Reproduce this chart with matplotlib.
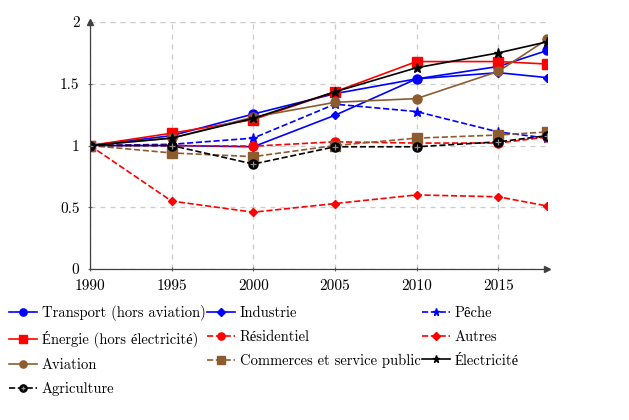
import matplotlib
matplotlib.use("Agg")
import matplotlib.pyplot as plt
from matplotlib.legend_handler import HandlerTuple

plt.rcParams['font.family'] = ['cmr10', 'Liberation Serif']
plt.rcParams['axes.formatter.use_mathtext'] = True

annees = [1990, 1995, 2000, 2005, 2010, 2015, 2018]

transport = [1.0, 1.08, 1.255, 1.42, 1.54, 1.64, 1.77]
industrie = [1.0, 1.0, 0.99, 1.245, 1.54, 1.59, 1.55]
peche = [1.0, 1.01, 1.06, 1.335, 1.275, 1.11, 1.06]
energie = [1.0, 1.10, 1.21, 1.435, 1.68, 1.68, 1.66]
residentiel = [1.0, 1.0, 0.995, 1.03, 1.02, 1.02, 1.07]
autres = [1.0, 0.55, 0.46, 0.53, 0.60, 0.585, 0.51]
aviation = [1.0, 1.06, 1.23, 1.35, 1.38, 1.60, 1.86]
commerces = [1.0, 0.94, 0.91, 1.0, 1.06, 1.085, 1.11]
electricite = [1.0, 1.06, 1.22, 1.435, 1.63, 1.75, 1.84]
agriculture = [1.0, 1.0, 0.85, 0.99, 0.99, 1.03, 1.08]

xticks = [1990, 1995, 2000, 2005, 2010, 2015]
yticks = [0, 0.5, 1, 1.5, 2]
ylabels = ['0', '0.5', '1', '1.5', '2']

bleu = (0, 0, 1)
rouge = (1, 0, 0)
brun = (0.55, 0.36, 0.19)
noir = (0, 0, 0)

fig = plt.figure(figsize=(6.29, 4.2), dpi=100)
ax = fig.add_axes([0.143, 0.3595, 0.727, 0.588])

lw = 1.2
ms = 6.5
h = {}
h['Transport (hors aviation)'], = ax.plot(annees, transport, '-o', color=bleu, lw=lw, ms=ms)
h['Industrie'], = ax.plot(annees, industrie, '-D', color=bleu, lw=lw, ms=4.5)
h['Pêche'], = ax.plot(annees, peche, '--*', color=bleu, lw=lw, ms=6.5)
h['Énergie (hors électricité)'], = ax.plot(annees, energie, '-s', color=rouge, lw=lw, ms=ms)
h['Résidentiel'], = ax.plot(annees, residentiel, '--o', color=rouge, lw=lw, ms=ms)
h['Autres'], = ax.plot(annees, autres, '--D', color=rouge, lw=lw, ms=4.5)
h['Aviation'], = ax.plot(annees, aviation, '-o', color=brun, lw=lw, ms=ms)
h['Commerces et service public'], = ax.plot(annees, commerces, '--s', color=brun, lw=lw, ms=ms)
h['Électricité'], = ax.plot(annees, electricite, '-*', color=noir, lw=lw, ms=6.5)
a1, = ax.plot(annees, agriculture, '--o', color=noir, lw=lw, ms=ms)
a2, = ax.plot(annees, agriculture, '+', color='0.55', ms=4, mew=0.9)
h['Agriculture'] = (a1, a2)

ax.set_xlim(1990, 2018)
ax.set_ylim(0, 2)
ax.set_xticks(xticks)
ax.set_xticklabels([str(x) for x in xticks])
ax.set_yticks(yticks)
ax.set_yticklabels(ylabels)
ax.tick_params(labelsize=11, length=3, color='0.4', direction='inout')
ax.tick_params(axis='x', pad=6)
ax.tick_params(axis='y', pad=6)
ax.grid(True, ls=(0, (4, 4)), color='0.8', lw=0.9)
ax.axhline(2, ls=(0, (4, 4)), color='0.8', lw=0.9)
for s in ['top', 'right']:
    ax.spines[s].set_visible(False)
for s in ['left', 'bottom']:
    ax.spines[s].set_color('0.25')
    ax.spines[s].set_linewidth(0.9)
ax.plot(0, 1, '^', color='0.25', ms=4, transform=ax.transAxes, clip_on=False)
ax.plot(1, 0, '>', color='0.25', ms=4, transform=ax.transAxes, clip_on=False)

# ordre par colonnes pour avoir les lignes comme dans l'original
ordre = ['Transport (hors aviation)', 'Énergie (hors électricité)', 'Aviation', 'Agriculture',
         'Industrie', 'Résidentiel', 'Commerces et service public',
         'Pêche', 'Autres', 'Électricité']
fig.legend([h[k] for k in ordre], ordre, loc='upper left', bbox_to_anchor=(0.005, 0.287),
           ncol=3, frameon=False, fontsize=10.5, columnspacing=0.1, handlelength=1.9,
           handletextpad=0.35, labelspacing=0.68, borderaxespad=0.0, markerscale=0.8,
           handler_map={tuple: HandlerTuple(ndivide=1, pad=0)})

fig.savefig('out.png', dpi=100)
